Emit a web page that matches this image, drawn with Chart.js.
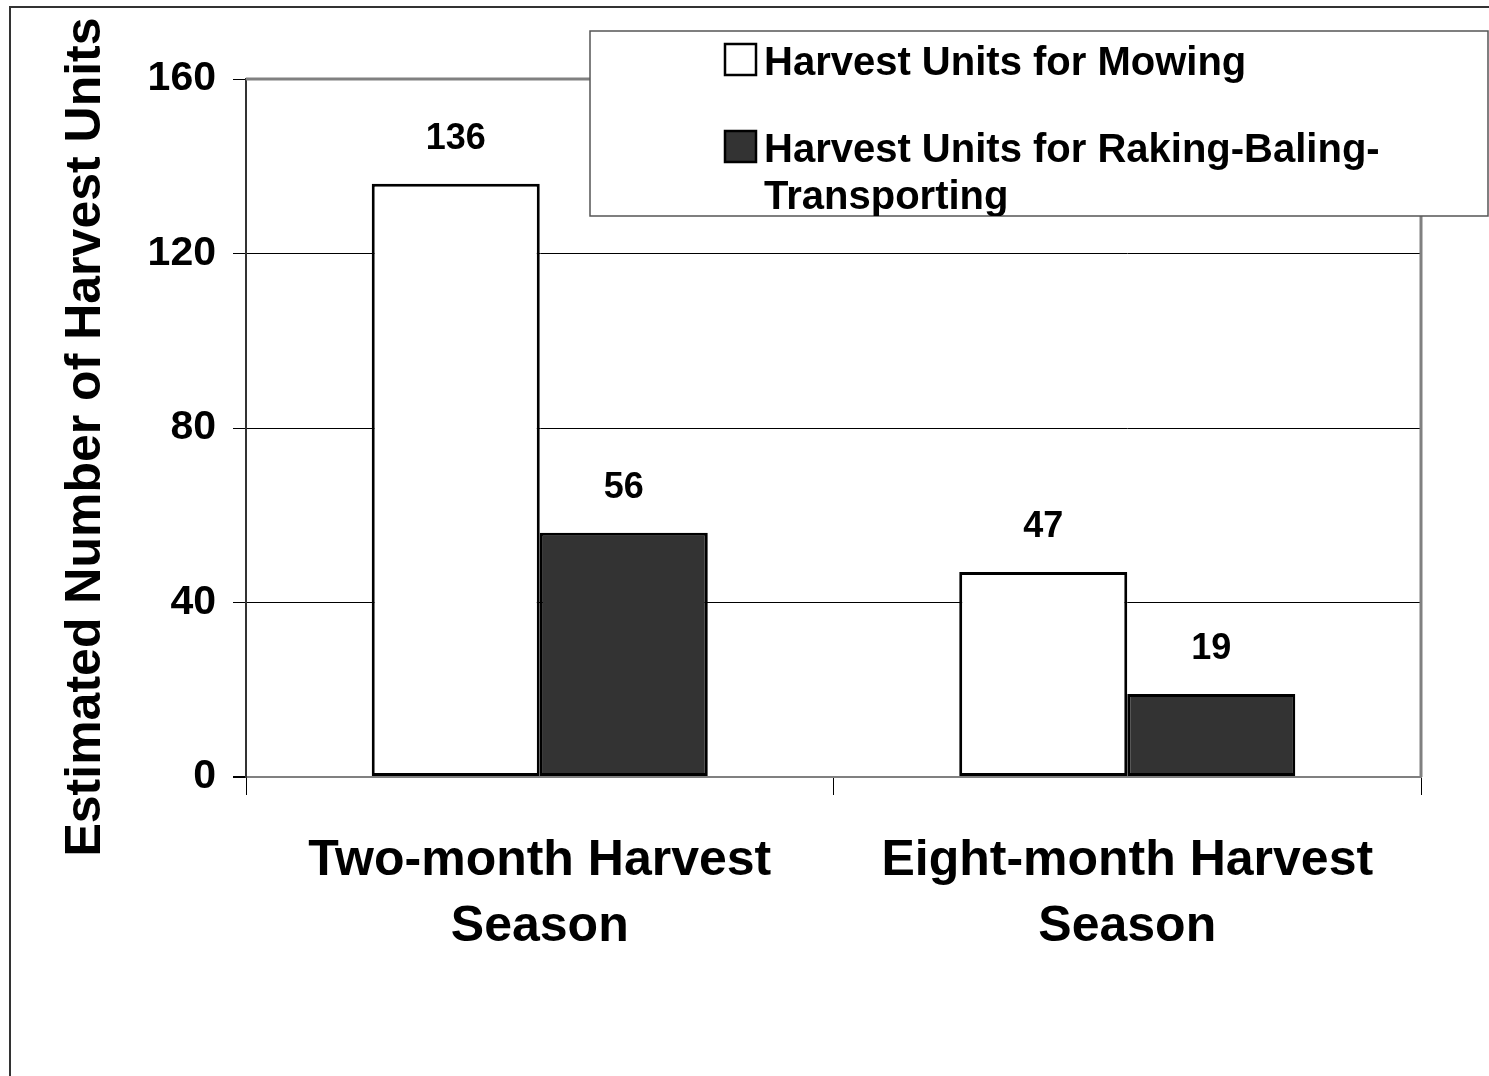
<!DOCTYPE html>
<html>
<head>
<meta charset="utf-8">
<script src="https://cdn.jsdelivr.net/npm/chart.js@4.4.0/dist/chart.umd.min.js"></script>
<style>
  html, body { margin: 0; padding: 0; background: #fff; }
  canvas { display: block; }
</style>
</head>
<body>
<canvas id="harvestChart" width="1489" height="1076"></canvas>
<script>
// values
const categories = [["Two-month Harvest", "Season"], ["Eight-month Harvest", "Season"]];
const mowingUnits = [136, 47];
const rakingUnits = [56, 19];
const seriesNames = ["Harvest Units for Mowing", "Harvest Units for Raking-Baling-Transporting"];
const legendLines = [["Harvest Units for Mowing"], ["Harvest Units for Raking-Baling-", "Transporting"]];
const yTicks = [0, 40, 80, 120, 160];
const axisTitle = "Estimated Number of Harvest Units";

const FONT = "'Liberation Sans', Arial, sans-serif";
const DARK = "#333333";

// outer frame, plot border, axis title, value labels and the boxed legend
const decorations = {
    id: "decorations",
    beforeDatasetsDraw(chart) {
        const { ctx, chartArea: a } = chart;
        ctx.save();
        ctx.strokeStyle = "#808080";
        ctx.lineWidth = 3;
        ctx.beginPath();
        ctx.moveTo(a.left, a.top);
        ctx.lineTo(a.right, a.top);
        ctx.lineTo(a.right, a.bottom);
        ctx.stroke();
        ctx.restore();
    },
    afterDatasetsDraw(chart) {
        const { ctx } = chart;
        ctx.save();
        ctx.fillStyle = "#000";
        ctx.font = "bold 36px " + FONT;
        ctx.textAlign = "center";
        ctx.textBaseline = "middle";
        chart.data.datasets.forEach((ds, i) => {
            chart.getDatasetMeta(i).data.forEach((bar, j) => {
                ctx.fillText(String(ds.data[j]), bar.x, bar.y - 45);
            });
        });
        ctx.restore();
    },
    afterDraw(chart) {
        const { ctx } = chart;
        ctx.save();
        // frame round the whole picture (cut off right and bottom)
        ctx.strokeStyle = "#333";
        ctx.lineWidth = 2;
        ctx.beginPath();
        ctx.moveTo(10, 1100);
        ctx.lineTo(10, 7);
        ctx.lineTo(1500, 7);
        ctx.stroke();

        // y axis title
        ctx.save();
        ctx.translate(86, 437);
        ctx.rotate(-Math.PI / 2);
        ctx.font = "bold 50px " + FONT;
        ctx.fillStyle = "#000";
        ctx.textAlign = "center";
        ctx.textBaseline = "middle";
        ctx.fillText(axisTitle, 0, 0);
        ctx.restore();

        // legend box
        const bx = 590, by = 31, bw = 898, bh = 185;
        ctx.fillStyle = "#fff";
        ctx.fillRect(bx, by, bw, bh);
        ctx.strokeStyle = "#555";
        ctx.lineWidth = 1.5;
        ctx.strokeRect(bx, by, bw, bh);
        ctx.beginPath();
        ctx.rect(bx, by, bw, bh);
        ctx.clip();

        const fills = ["#ffffff", DARK];
        const rowY = [75, 162];
        ctx.font = "bold 40px " + FONT;
        ctx.textAlign = "left";
        ctx.textBaseline = "alphabetic";
        legendLines.forEach((lines, i) => {
            ctx.fillStyle = fills[i];
            ctx.fillRect(725, rowY[i] - 31, 31, 31);
            ctx.strokeStyle = "#000";
            ctx.lineWidth = 2.5;
            ctx.strokeRect(725, rowY[i] - 31, 31, 31);
            ctx.fillStyle = "#000";
            lines.forEach((t, k) => ctx.fillText(t, 764, rowY[i] + k * 47));
        });
        ctx.restore();
    }
};

new Chart(document.getElementById("harvestChart"), {
    type: "bar",
    data: {
        labels: categories,
        datasets: [
            {
                label: seriesNames[0],
                data: mowingUnits,
                backgroundColor: "#ffffff",
                borderColor: "#000",
                borderWidth: 3,
                borderSkipped: false
            },
            {
                label: seriesNames[1],
                data: rakingUnits,
                backgroundColor: DARK,
                borderColor: "#000",
                borderWidth: 3,
                borderSkipped: false
            }
        ]
    },
    options: {
        responsive: false,
        animation: false,
        devicePixelRatio: 1,
        layout: { padding: { top: 79, right: 68, left: 0, bottom: 0 } },
        datasets: { bar: { categoryPercentage: 0.572, barPercentage: 1 } },
        plugins: {
            legend: { display: false },
            tooltip: { enabled: false }
        },
        scales: {
            x: {
                afterFit(scale) { scale.height = 1076 - 777; },
                grid: {
                    offset: true,
                    drawOnChartArea: false,
                    drawTicks: true,
                    tickLength: 18,
                    tickColor: "#000",
                    tickWidth: 1
                },
                border: { color: "#808080", width: 2 },
                ticks: {
                    color: "#000",
                    font: { family: FONT, size: 50, weight: "bold", lineHeight: 1.32 },
                    padding: 33,
                    maxRotation: 0,
                    autoSkip: false
                }
            },
            y: {
                min: yTicks[0],
                max: yTicks[yTicks.length - 1],
                afterFit(scale) { scale.width = 246; },
                afterBuildTicks(scale) { scale.ticks = yTicks.map(v => ({ value: v })); },
                grid: {
                    color: ctx => (ctx.tick && ctx.tick.value === 0) ? "#808080" : "#000",
                    lineWidth: ctx => (ctx.tick && ctx.tick.value === 0) ? 2 : 1,
                    tickColor: "#000",
                    tickLength: 13
                },
                border: { color: "#333", width: 2 },
                ticks: {
                    color: "#000",
                    font: { family: FONT, size: 41, weight: "bold" },
                    padding: 17
                }
            }
        }
    },
    plugins: [decorations]
});
</script>
</body>
</html>
